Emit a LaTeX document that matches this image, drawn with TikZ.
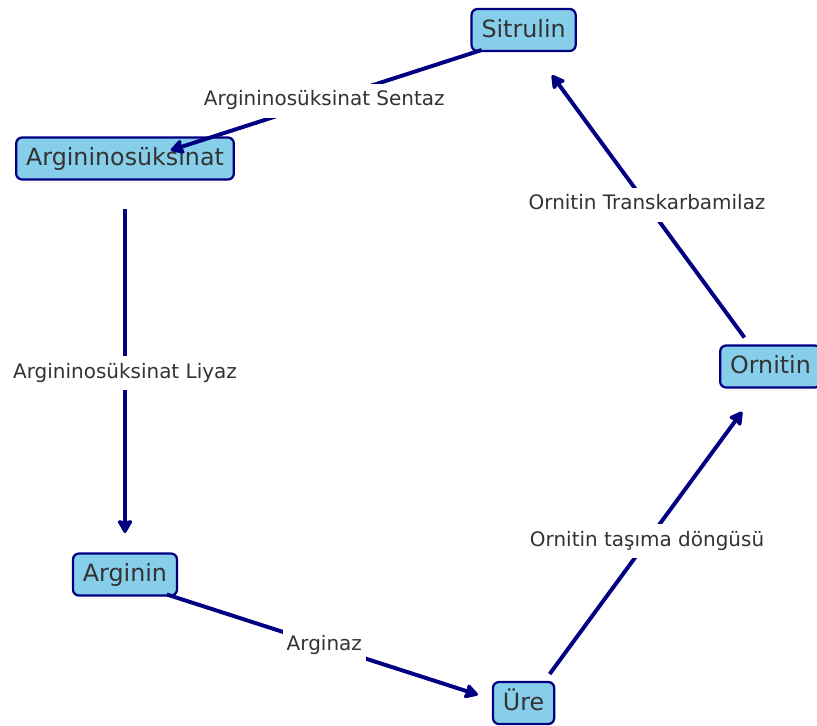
\documentclass[tikz,border=0pt]{standalone}
\usepackage{fontspec}
\setsansfont{DejaVu Sans}
\usetikzlibrary{arrows.meta}
\definecolor{ucFill}{HTML}{87CEEB}
\definecolor{ucNavy}{HTML}{000080}
\definecolor{ucInk}{HTML}{333333}
\tikzset{
  uc diagram/.style={font=\sffamily, text=ucInk, line join=round},
  uc box/.style={draw=ucNavy, fill=ucFill, line width=1.6pt,
    rounded corners=0.15cm, font=\sffamily\fontsize{16.9}{20}\selectfont,
    text height=0.474cm, text depth=0.107cm, minimum height=1.05cm,
    inner xsep=0.25cm, yshift=0.1625cm},
  uc arrow/.style={-{Stealth[length=0.38cm,width=0.42cm,inset=0.05cm,round]},
    draw=ucNavy, line width=2.8pt, shorten <=1.1cm, shorten >=1.2cm},
  uc label/.style={fill=white, font=\sffamily\fontsize{14.2}{17}\selectfont,
    text height=0.375cm, text depth=0.125cm, inner xsep=0.1cm,
    inner ysep=0.175cm}
}
\begin{document}
\begin{tikzpicture}[uc diagram,x=0.025cm,y=-0.025cm]
\useasboundingbox (0,0) rectangle (817,725);
% the five steps of the cycle
\node[uc box] (sit) at (523.6,36.5) {Sitrulin};
\node[uc box] (asa) at (125,165) {Argininosüksinat};
\node[uc box] (arg) at (125,581) {Arginin};
\node[uc box] (ure) at (523.6,709.5) {Üre};
\node[uc box] (orn) at (770.5,373) {Ornitin};
% enzymes
\draw[uc arrow] ([yshift=-0.1625cm]sit.center) -- node[uc label] {Argininosüksinat Sentaz} ([yshift=-0.1625cm]asa.center);
\draw[uc arrow] ([yshift=-0.1625cm]asa.center) -- node[uc label] {Argininosüksinat Liyaz} ([yshift=-0.1625cm]arg.center);
\draw[uc arrow] ([yshift=-0.1625cm]arg.center) -- node[uc label] {Arginaz} ([yshift=-0.1625cm]ure.center);
\draw[uc arrow] ([yshift=-0.1625cm]ure.center) -- node[uc label] {Ornitin taşıma döngüsü} ([yshift=-0.1625cm]orn.center);
\draw[uc arrow] ([yshift=-0.1625cm]orn.center) -- node[uc label] {Ornitin Transkarbamilaz} ([yshift=-0.1625cm]sit.center);
\end{tikzpicture}
\end{document}
